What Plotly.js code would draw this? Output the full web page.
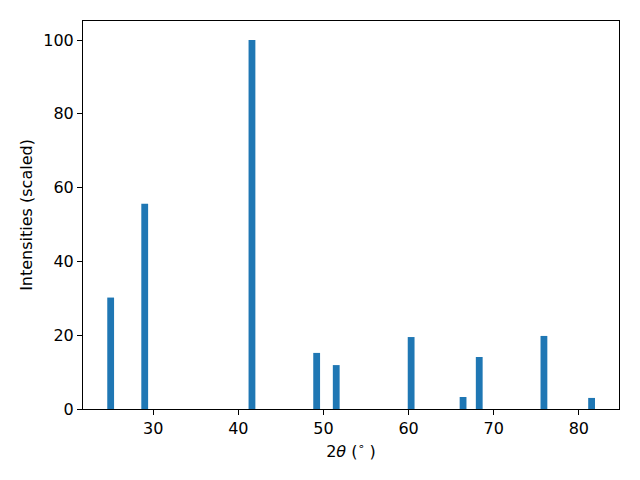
<!DOCTYPE html>
<html>
<head>
<meta charset="utf-8">
<script src="https://cdn.plot.ly/plotly-3.0.1.min.js"></script>
<style>html,body{margin:0;padding:0;background:#fff;}#chart{width:640px;height:480px;}</style>
</head>
<body>
<div id="chart"></div>
<script>
const twoTheta = [25.0, 29.0, 41.6, 49.2, 51.5, 60.3, 66.4, 68.3, 75.9, 81.5];
const intensity = [30.2, 55.6, 100, 15.2, 11.9, 19.5, 3.25, 14.1, 19.8, 3.0];
const xTicks = [30, 40, 50, 60, 70, 80];
const yTicks = [0, 20, 40, 60, 80, 100];

const FONT = 'DejaVu Sans, sans-serif';
const axisCommon = {
  showgrid: false, zeroline: false, showline: true, mirror: true,
  linecolor: '#000', linewidth: 1, ticks: 'outside', ticklen: 5, tickwidth: 1,
  tickcolor: '#000', tickfont: {family: FONT, size: 16, color: '#000'}
};

Plotly.newPlot('chart', [{
  type: 'bar', x: twoTheta, y: intensity, width: 0.8,
  marker: {color: '#1f77b4', line: {width: 0}}
}], {
  width: 640, height: 480,
  font: {family: FONT, size: 16, color: '#000'},
  margin: {l: 83, r: 21, t: 21, b: 71},
  paper_bgcolor: '#fff', plot_bgcolor: '#fff',
  showlegend: false,
  xaxis: Object.assign({}, axisCommon, {
    range: [21.75, 84.72], tickvals: xTicks, ticktext: xTicks.map(String),
    title: {text: '2<i>θ</i> (<sup>∘</sup> )', font: {family: FONT, size: 16, color: '#000'}, standoff: 8}
  }),
  yaxis: Object.assign({}, axisCommon, {
    range: [0, 105.15], tickvals: yTicks, ticktext: yTicks.map(String),
    title: {text: 'Intensities (scaled)', font: {family: FONT, size: 16, color: '#000'}, standoff: 6}
  })
}, {displayModeBar: false, staticPlot: true});
</script>
</body>
</html>
